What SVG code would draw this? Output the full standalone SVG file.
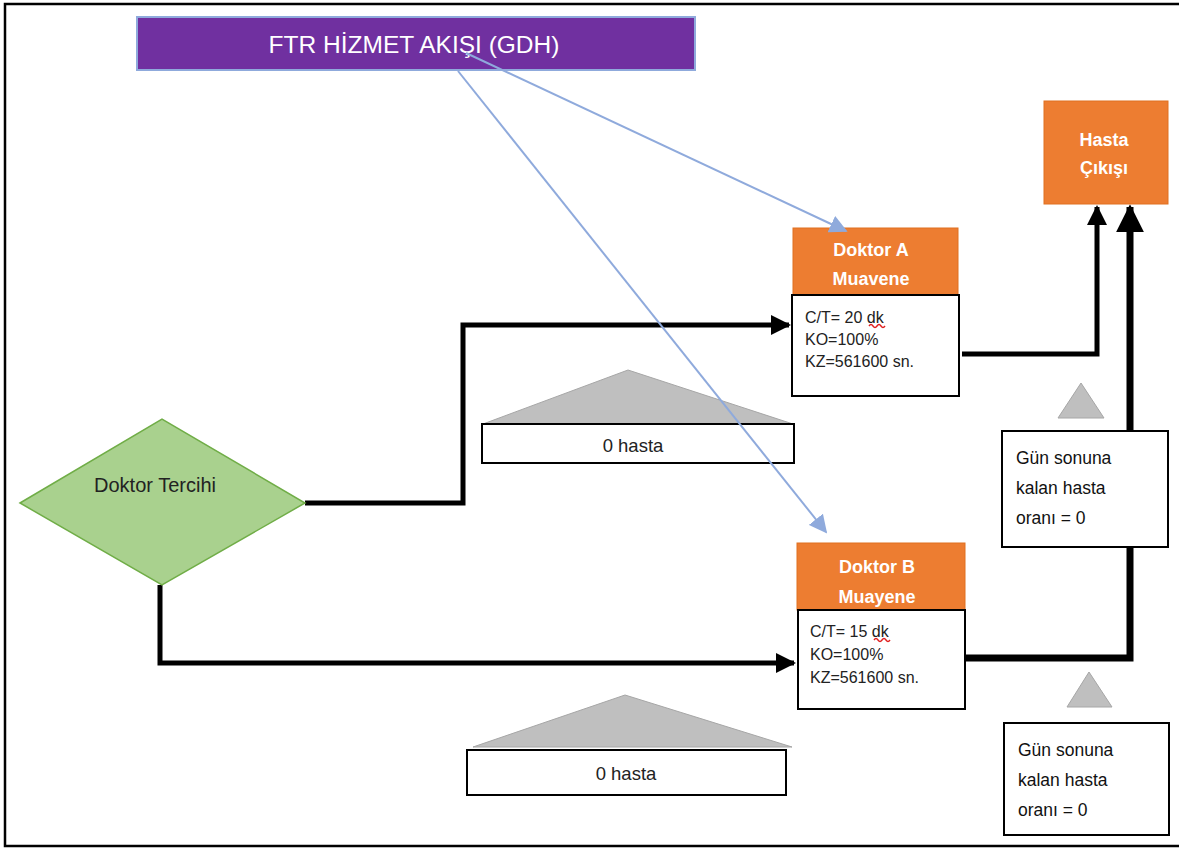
<svg xmlns="http://www.w3.org/2000/svg" width="1179" height="848" viewBox="0 0 1179 848">
  <defs>
    <marker id="arrBlack" viewBox="0 0 10 10" refX="9" refY="5" markerWidth="4" markerHeight="4" orient="auto" markerUnits="strokeWidth">
      <path d="M0,0 L10,5 L0,10 z" fill="#000"/>
    </marker>
    <marker id="arrBlue" viewBox="0 0 10 10" refX="9" refY="5" markerWidth="9" markerHeight="9" orient="auto" markerUnits="strokeWidth">
      <path d="M0,0 L10,5 L0,10 z" fill="#8FAADC"/>
    </marker>
    <style>
      .t { font-family: "Liberation Sans", "Open Sans", sans-serif; }
      .hdr { font-family: "Liberation Sans", sans-serif; font-weight: bold; fill: #fff; font-size: 18px; text-anchor: middle; }
      .data { font-family: "Liberation Sans", sans-serif; font-size: 16px; fill: #222; }
      .box { fill: #fff; stroke: #000; stroke-width: 2; }
      .orange { fill: #ED7D31; stroke: #E07020; stroke-width: 1; }
      .flow { fill: none; stroke: #000; stroke-width: 5; }
      .blue { fill: none; stroke: #8FAADC; stroke-width: 2; }
      .tri { fill: #BFBFBF; stroke: #A6A6A6; stroke-width: 1; }
      .note { font-family: "Liberation Sans", sans-serif; font-size: 17.5px; fill: #111; }
      .wave { fill: none; stroke: #E02020; stroke-width: 1.4; }
    </style>
  </defs>

  <rect x="0" y="0" width="1179" height="848" fill="#fff"/>
  <!-- outer frame -->
  <rect x="5" y="4" width="1176" height="842" fill="none" stroke="#000" stroke-width="2.5"/>

  <!-- connectors -->
  <g id="connectors">
    <polyline class="flow" points="305,503 463,503 463,325 789,325" marker-end="url(#arrBlack)"/>
    <polyline class="flow" points="160,585 160,663 794,663" marker-end="url(#arrBlack)"/>
    <polyline class="flow" points="962,354 1097,354 1097,207" marker-end="url(#arrBlack)"/>
    <polyline class="flow" points="965,658 1130,658 1130,207" style="stroke-width:7" marker-end="url(#arrBlack)"/>
  </g>

  <!-- title -->
  <g id="title">
    <rect x="137" y="17" width="558" height="53" fill="#7030A0" stroke="#8FAADC" stroke-width="2"/>
    <text x="414" y="53" class="t" font-size="24.5" fill="#fff" text-anchor="middle">FTR HİZMET AKIŞI (GDH)</text>
  </g>

  <!-- decision -->
  <g id="doktor-tercihi">
    <polygon points="20,503 162,419 305,503 162,585" fill="#A9D18E" stroke="#70AD47" stroke-width="1.5"/>
    <text x="155" y="492" class="t" font-size="20" fill="#222" text-anchor="middle">Doktor Tercihi</text>
  </g>

  <!-- queue A -->
  <g id="kuyruk-a">
    <polygon class="tri" points="483,424 628,370 793,424"/>
    <rect class="box" x="482" y="424" width="312" height="39"/>
    <text x="633" y="452" class="t" font-size="18.5" fill="#222" text-anchor="middle">0 hasta</text>
  </g>

  <!-- queue B -->
  <g id="kuyruk-b">
    <polygon class="tri" points="473,747 625,695 792,747"/>
    <rect class="box" x="467" y="750" width="319" height="45"/>
    <text x="626" y="780" class="t" font-size="18.5" fill="#222" text-anchor="middle">0 hasta</text>
  </g>

  <!-- Doktor A -->
  <g id="doktor-a">
    <rect class="orange" x="793" y="228" width="165" height="67"/>
    <text x="871" y="256" class="hdr">Doktor A</text>
    <text x="871" y="285" class="hdr">Muavene</text>
    <rect class="box" x="792" y="295" width="167" height="101"/>
    <text x="805" y="323" class="data">C/T= 20 dk</text>
    <path class="wave" d="M869,326 q2,-3 4,0 t4,0 t4,0 t4,0"/>
    <text x="805" y="345" class="data">KO=100%</text>
    <text x="805" y="367" class="data">KZ=561600 sn.</text>
  </g>

  <!-- Doktor B -->
  <g id="doktor-b">
    <rect class="orange" x="797" y="543" width="168" height="67"/>
    <text x="877" y="573" class="hdr">Doktor B</text>
    <text x="877" y="603" class="hdr">Muayene</text>
    <rect class="box" x="798" y="610" width="167" height="99"/>
    <text x="810" y="637" class="data">C/T= 15 dk</text>
    <path class="wave" d="M874,640 q2,-3 4,0 t4,0 t4,0 t4,0"/>
    <text x="810" y="660" class="data">KO=100%</text>
    <text x="810" y="683" class="data">KZ=561600 sn.</text>
  </g>

  <!-- exit -->
  <g id="hasta-cikisi">
    <rect class="orange" x="1044" y="101" width="124" height="103"/>
    <text x="1104" y="146" class="hdr" font-size="17">Hasta</text>
    <text x="1104" y="174" class="hdr" font-size="17">Çıkışı</text>
  </g>

  <!-- end-of-day notes -->
  <g id="not-a">
    <polygon class="tri" points="1058,418 1081,383 1104,418"/>
    <rect class="box" x="1002" y="431" width="166" height="116"/>
    <text x="1016" y="464" class="note">Gün sonuna</text>
    <text x="1016" y="494" class="note">kalan hasta</text>
    <text x="1016" y="524" class="note">oranı = 0</text>
  </g>
  <g id="not-b">
    <polygon class="tri" points="1067,707 1089,672 1112,707"/>
    <rect class="box" x="1004" y="723" width="165" height="112"/>
    <text x="1018" y="756" class="note">Gün sonuna</text>
    <text x="1018" y="786" class="note">kalan hasta</text>
    <text x="1018" y="816" class="note">oranı = 0</text>
  </g>

  <!-- title links -->
  <g id="links">
    <line class="blue" x1="466" y1="53" x2="846" y2="231" marker-end="url(#arrBlue)"/>
    <line class="blue" x1="458" y1="71" x2="826" y2="532" marker-end="url(#arrBlue)"/>
  </g>
</svg>
